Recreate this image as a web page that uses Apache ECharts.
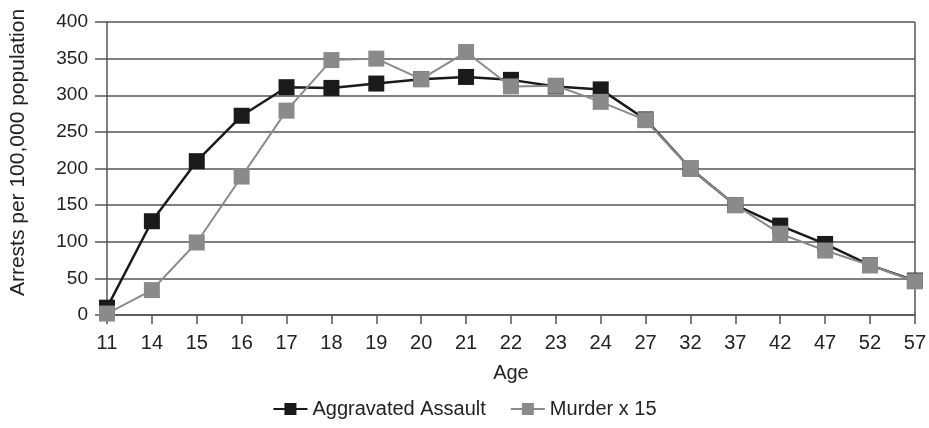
<!DOCTYPE html>
<html><head><meta charset="utf-8">
<script src="https://cdn.jsdelivr.net/npm/echarts@6/dist/echarts.min.js"></script>
<style>html,body{margin:0;padding:0;background:#fff}#c{width:929px;height:428px}</style>
</head><body><div id="c"></div>
<script>
const ages = ['11','14','15','16','17','18','19','20','21','22','23','24','27','32','37','42','47','52','57'];
const assault = [10,128,210,272,311,310,316,322,325,321,312,308,267,200,150,122,97,68,47];
const murder = [2,34,99,189,279,348,350,322,359,312,313,291,266,200,150,111,88,68,46];
const yTicks = {min:0,max:400,interval:50};

const chart = echarts.init(document.getElementById('c'));
const font = 'Liberation Sans, Arial, sans-serif';
chart.setOption({
  animation:false,
  grid:{left:106,right:14,top:22,bottom:113},
  legend:{bottom:4,left:'center',itemWidth:34,itemHeight:15,itemGap:24,
    textStyle:{fontFamily:font,fontSize:20,color:'#222'},
    data:['Aggravated Assault','Murder x 15']},
  xAxis:{type:'category',data:ages,boundaryGap:false,name:'Age',nameLocation:'middle',nameGap:48,
    nameTextStyle:{fontFamily:font,fontSize:20,color:'#222'},
    axisLine:{lineStyle:{color:'#555',width:1.5}},
    axisTick:{show:true,length:9,lineStyle:{color:'#555',width:1.5}},
    axisLabel:{fontFamily:font,fontSize:20,color:'#222',margin:18},
    splitLine:{show:false}},
  yAxis:{type:'value',min:yTicks.min,max:yTicks.max,interval:yTicks.interval,
    name:'Arrests per 100,000 population',nameLocation:'middle',nameGap:78,
    nameTextStyle:{fontFamily:font,fontSize:21,color:'#222',padding:[0,0,0,32]},
    axisLine:{show:true,lineStyle:{color:'#555',width:1.5}},
    axisTick:{show:true,length:12,lineStyle:{color:'#555',width:1.5}},
    axisLabel:{fontFamily:font,fontSize:19,color:'#222',margin:19},
    splitLine:{lineStyle:{color:'#555',width:1.5}}},
  series:[
    {name:'Murder x 15',type:'line',data:murder,symbol:'rect',symbolSize:16,z:2,
      lineStyle:{color:'#8a8a8a',width:2},itemStyle:{color:'#8a8a8a'}},
    {name:'Aggravated Assault',type:'line',data:assault,symbol:'rect',symbolSize:16,z:1,
      lineStyle:{color:'#1a1a1a',width:2.5},itemStyle:{color:'#1a1a1a'}}
  ],
  graphic:[{type:'line',shape:{x1:915,y1:22,x2:915,y2:315},style:{stroke:'#555',lineWidth:1.5}}]
});
</script></body></html>
